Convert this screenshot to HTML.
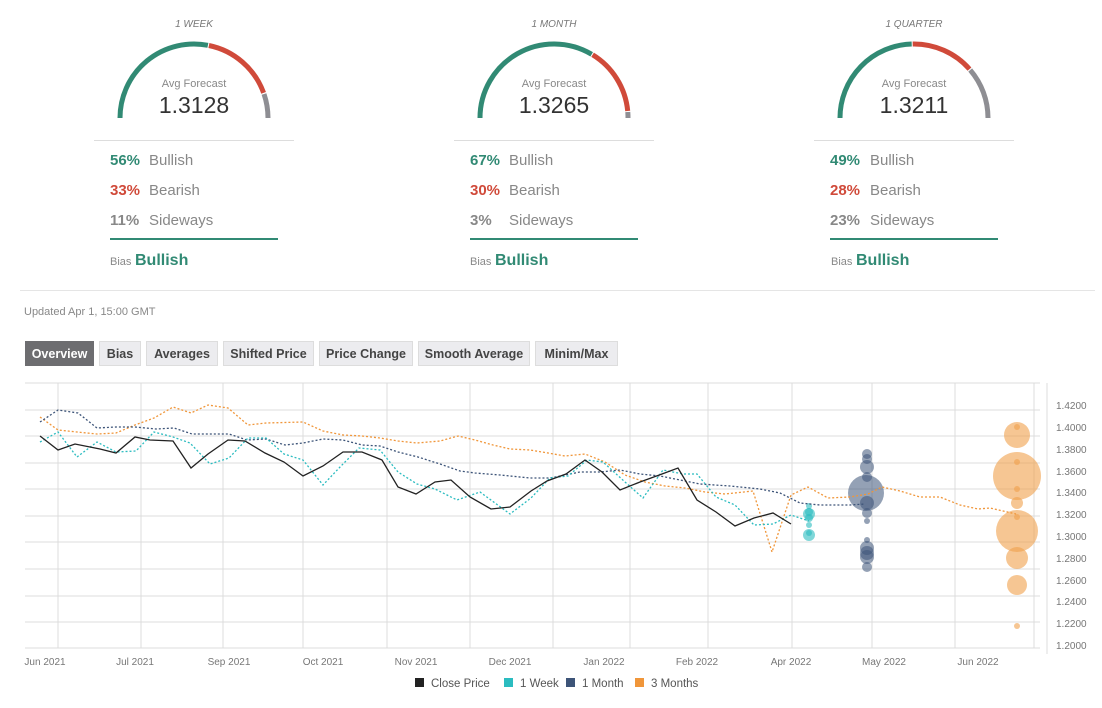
<!DOCTYPE html>
<html><head><meta charset="utf-8"><style>
body{margin:0;background:#fff;width:1102px;height:708px;overflow:hidden}
svg{font-family:"Liberation Sans",sans-serif;display:block}
</style></head><body>
<svg width="1102" height="708" viewBox="0 0 1102 708">
<defs>
<g id="g"></g>
</defs>
<!-- Gauges -->
<g fill="none" stroke-width="5">
 <path d="M120,118 A74,74 0 0 1 207.9,45.3" stroke="#318a74"/>
 <path d="M208.9,45.5 A74,74 0 0 1 263.6,92.9" stroke="#d04a3a"/>
 <path d="M264,94 A74,74 0 0 1 268,118" stroke="#8e8e93"/>
 <path d="M480,118 A74,74 0 0 1 591.7,54.3" stroke="#318a74"/>
 <path d="M592.6,54.8 A74,74 0 0 1 627.7,111" stroke="#d04a3a"/>
 <path d="M627.8,112 A74,74 0 0 1 628,118" stroke="#8e8e93"/>
 <path d="M840,118 A74,74 0 0 1 911.7,44" stroke="#318a74"/>
 <path d="M912.7,44 A74,74 0 0 1 969.5,69.1" stroke="#d04a3a"/>
 <path d="M970.2,70 A74,74 0 0 1 988,118" stroke="#8e8e93"/>
</g>
<g font-style="italic" font-size="10" fill="#777" text-anchor="middle">
 <text x="194" y="27">1 WEEK</text><text x="554" y="27">1 MONTH</text><text x="914" y="27">1 QUARTER</text>
</g>
<g font-size="11" fill="#888" text-anchor="middle">
 <text x="194" y="87">Avg Forecast</text><text x="554" y="87">Avg Forecast</text><text x="914" y="87">Avg Forecast</text>
</g>
<g font-size="23" fill="#333" text-anchor="middle">
 <text x="194" y="113">1.3128</text><text x="554" y="113">1.3265</text><text x="914" y="113">1.3211</text>
</g>
<g stroke="#ddd"><line x1="94" y1="140.5" x2="294" y2="140.5"/><line x1="454" y1="140.5" x2="654" y2="140.5"/><line x1="814" y1="140.5" x2="1014" y2="140.5"/></g>
<g stroke="#318a74" stroke-width="2"><line x1="110" y1="239" x2="278" y2="239"/><line x1="470" y1="239" x2="638" y2="239"/><line x1="830" y1="239" x2="998" y2="239"/></g>
<g font-size="15">
 <g font-weight="bold"><text x="110" y="165" fill="#318a74">56%</text><text x="110" y="195" fill="#d04a3a">33%</text><text x="110" y="225" fill="#888">11%</text>
 <text x="470" y="165" fill="#318a74">67%</text><text x="470" y="195" fill="#d04a3a">30%</text><text x="470" y="225" fill="#888">3%</text>
 <text x="830" y="165" fill="#318a74">49%</text><text x="830" y="195" fill="#d04a3a">28%</text><text x="830" y="225" fill="#888">23%</text></g>
 <g fill="#888"><text x="149" y="165">Bullish</text><text x="149" y="195">Bearish</text><text x="149" y="225">Sideways</text>
 <text x="509" y="165">Bullish</text><text x="509" y="195">Bearish</text><text x="509" y="225">Sideways</text>
 <text x="870" y="165">Bullish</text><text x="870" y="195">Bearish</text><text x="870" y="225">Sideways</text></g>
</g>
<g><text x="110" y="265" font-size="11" fill="#888">Bias</text><text x="135" y="265" font-size="16" font-weight="bold" fill="#318a74">Bullish</text>
<text x="470" y="265" font-size="11" fill="#888">Bias</text><text x="495" y="265" font-size="16" font-weight="bold" fill="#318a74">Bullish</text>
<text x="831" y="265" font-size="11" fill="#888">Bias</text><text x="856" y="265" font-size="16" font-weight="bold" fill="#318a74">Bullish</text></g>
<line x1="20" y1="290.5" x2="1095" y2="290.5" stroke="#e5e5e5"/>
<text x="24" y="315" font-size="11" fill="#888">Updated Apr 1, 15:00 GMT</text>
<!-- Tabs -->
<g font-size="12.5" font-weight="bold" text-anchor="middle">
 <rect x="25" y="341" width="69" height="25" fill="#6d6d70"/><text x="59.5" y="358" fill="#fff">Overview</text>
 <g fill="#ececef" stroke="#ddd"><rect x="99.5" y="341.5" width="41" height="24"/><rect x="146.5" y="341.5" width="71" height="24"/><rect x="223.5" y="341.5" width="90" height="24"/><rect x="319.5" y="341.5" width="93" height="24"/><rect x="418.5" y="341.5" width="111" height="24"/><rect x="535.5" y="341.5" width="82" height="24"/></g>
 <g fill="#444"><text x="120" y="358">Bias</text><text x="182" y="358">Averages</text><text x="268.5" y="358">Shifted Price</text><text x="366" y="358">Price Change</text><text x="474" y="358">Smooth Average</text><text x="576.5" y="358">Minim/Max</text></g>
</g>
<!-- Chart grid -->
<g stroke="#dcdcdc" stroke-width="1">
 <line x1="25" y1="383" x2="1040" y2="383"/><line x1="25" y1="410" x2="1040" y2="410"/><line x1="25" y1="436" x2="1040" y2="436"/><line x1="25" y1="463" x2="1040" y2="463"/><line x1="25" y1="489" x2="1040" y2="489"/><line x1="25" y1="516" x2="1040" y2="516"/><line x1="25" y1="542" x2="1040" y2="542"/><line x1="25" y1="569" x2="1040" y2="569"/><line x1="25" y1="596" x2="1040" y2="596"/><line x1="25" y1="622" x2="1040" y2="622"/><line x1="25" y1="648" x2="1040" y2="648"/>
 <line x1="58" y1="383" x2="58" y2="648"/><line x1="141" y1="383" x2="141" y2="648"/><line x1="223" y1="383" x2="223" y2="648"/><line x1="303" y1="383" x2="303" y2="648"/><line x1="387" y1="383" x2="387" y2="648"/><line x1="470" y1="383" x2="470" y2="648"/><line x1="553" y1="383" x2="553" y2="648"/><line x1="630" y1="383" x2="630" y2="648"/><line x1="708" y1="383" x2="708" y2="648"/><line x1="792" y1="383" x2="792" y2="648"/><line x1="872" y1="383" x2="872" y2="648"/><line x1="955" y1="383" x2="955" y2="648"/><line x1="1034" y1="383" x2="1034" y2="648"/>
 <line x1="1047" y1="383" x2="1047" y2="654"/>
</g>
<g font-size="10" fill="#777">
 <text x="1056" y="409">1.4200</text><text x="1056" y="431">1.4000</text><text x="1056" y="453">1.3800</text><text x="1056" y="475">1.3600</text><text x="1056" y="496">1.3400</text><text x="1056" y="518">1.3200</text><text x="1056" y="540">1.3000</text><text x="1056" y="562">1.2800</text><text x="1056" y="584">1.2600</text><text x="1056" y="605">1.2400</text><text x="1056" y="627">1.2200</text><text x="1056" y="649">1.2000</text>
</g>
<g font-size="10" fill="#777" text-anchor="middle">
 <text x="45" y="665">Jun 2021</text><text x="135" y="665">Jul 2021</text><text x="229" y="665">Sep 2021</text><text x="323" y="665">Oct 2021</text><text x="416" y="665">Nov 2021</text><text x="510" y="665">Dec 2021</text><text x="604" y="665">Jan 2022</text><text x="697" y="665">Feb 2022</text><text x="791" y="665">Apr 2022</text><text x="884" y="665">May 2022</text><text x="978" y="665">Jun 2022</text>
</g>
<!-- bubbles -->
<g fill="#f0a04b" fill-opacity="0.6">
 <circle cx="1017" cy="427" r="3"/><circle cx="1017" cy="435" r="13"/><circle cx="1017" cy="462" r="3"/><circle cx="1017" cy="476" r="24"/><circle cx="1017" cy="489" r="3"/><circle cx="1017" cy="503" r="6"/><circle cx="1017" cy="517" r="3"/><circle cx="1017" cy="531" r="21"/><circle cx="1017" cy="558" r="11"/><circle cx="1017" cy="585" r="10"/><circle cx="1017" cy="626" r="3"/>
</g>
<g fill="#3d5478" fill-opacity="0.55">
 <circle cx="867" cy="454" r="5"/><circle cx="867" cy="459" r="5"/><circle cx="867" cy="467" r="7"/><circle cx="867" cy="477" r="5"/><circle cx="866" cy="493" r="18"/><circle cx="867" cy="503" r="7"/><circle cx="867" cy="513" r="5"/><circle cx="867" cy="521" r="3"/><circle cx="867" cy="540" r="3"/><circle cx="867" cy="548" r="7"/><circle cx="867" cy="553" r="7"/><circle cx="867" cy="557" r="7"/><circle cx="867" cy="567" r="5"/>
</g>
<g fill="#2bbcc0" fill-opacity="0.6">
 <circle cx="809" cy="506" r="3"/><circle cx="809" cy="512" r="4"/><circle cx="809" cy="514" r="6"/><circle cx="809" cy="518" r="4"/><circle cx="809" cy="525" r="3"/><circle cx="809" cy="533" r="3"/><circle cx="809" cy="535" r="6"/>
</g>
<!-- series -->
<g fill="none" stroke-width="1.3">
<polyline stroke="#f0963a" stroke-dasharray="2,2" points="40,417 58,430 77,432 97,434 116,433 135,425 154,418 173,407 191,413 208,405 228,408 248,425 266,423 303,422 323,431 343,435 362,436 380,438 398,441 417,443 440,441 458,436 475,440 493,445 510,449 530,450 548,453 565,456 585,454 605,462 625,475 645,482 665,486 685,488 705,492 725,494 753,491 772,552 791,495 808,487 828,498 850,497 868,494 882,487 900,491 920,497 940,497 960,505 978,509 990,508 1016,514"/>
<polyline stroke="#3d5478" stroke-dasharray="2,2" points="40,422 58,410 78,413 97,428 116,427 135,427 156,429 174,428 192,434 210,434 229,434 247,440 266,439 285,445 303,443 323,439 343,440 362,445 380,446 398,452 418,457 440,464 460,471 475,473 500,475 530,478 550,478 580,472 600,472 620,470 640,474 660,476 680,480 700,484 730,486 760,489 780,493 800,503 820,505 850,505 865,504"/>
<polyline stroke="#2bbcc0" stroke-dasharray="2,2" points="40,442 58,432 77,457 97,442 116,452 136,451 154,432 173,437 190,443 210,464 229,458 248,438 266,438 284,454 303,460 323,485 341,466 359,448 380,450 398,472 417,484 435,489 457,500 480,492 510,514 531,498 550,478 568,476 587,460 603,462 625,482 643,498 663,470 683,474 697,474 716,497 735,505 754,525 773,524 791,515 800,518 809,521"/>
<polyline stroke="#222" points="40,436 58,450 75,444 100,449 116,453 135,437 150,440 173,441 191,468 208,454 228,440 245,441 265,453 284,462 303,476 323,466 343,452 362,452 382,460 398,487 416,494 435,482 451,480 470,497 491,509 510,507 531,491 547,481 566,474 585,460 602,472 620,490 640,482 662,474 678,468 697,500 716,512 735,526 754,518 773,513 791,524"/>
</g>
<!-- legend -->
<g font-size="11.5" fill="#555">
 <rect x="415" y="678" width="9" height="9" fill="#222"/><text x="431" y="687">Close Price</text>
 <rect x="504" y="678" width="9" height="9" fill="#2bbcc0"/><text x="520" y="687">1 Week</text>
 <rect x="566" y="678" width="9" height="9" fill="#3d5478"/><text x="582" y="687">1 Month</text>
 <rect x="635" y="678" width="9" height="9" fill="#f0963a"/><text x="651" y="687">3 Months</text>
</g>
</svg>
</body></html>
